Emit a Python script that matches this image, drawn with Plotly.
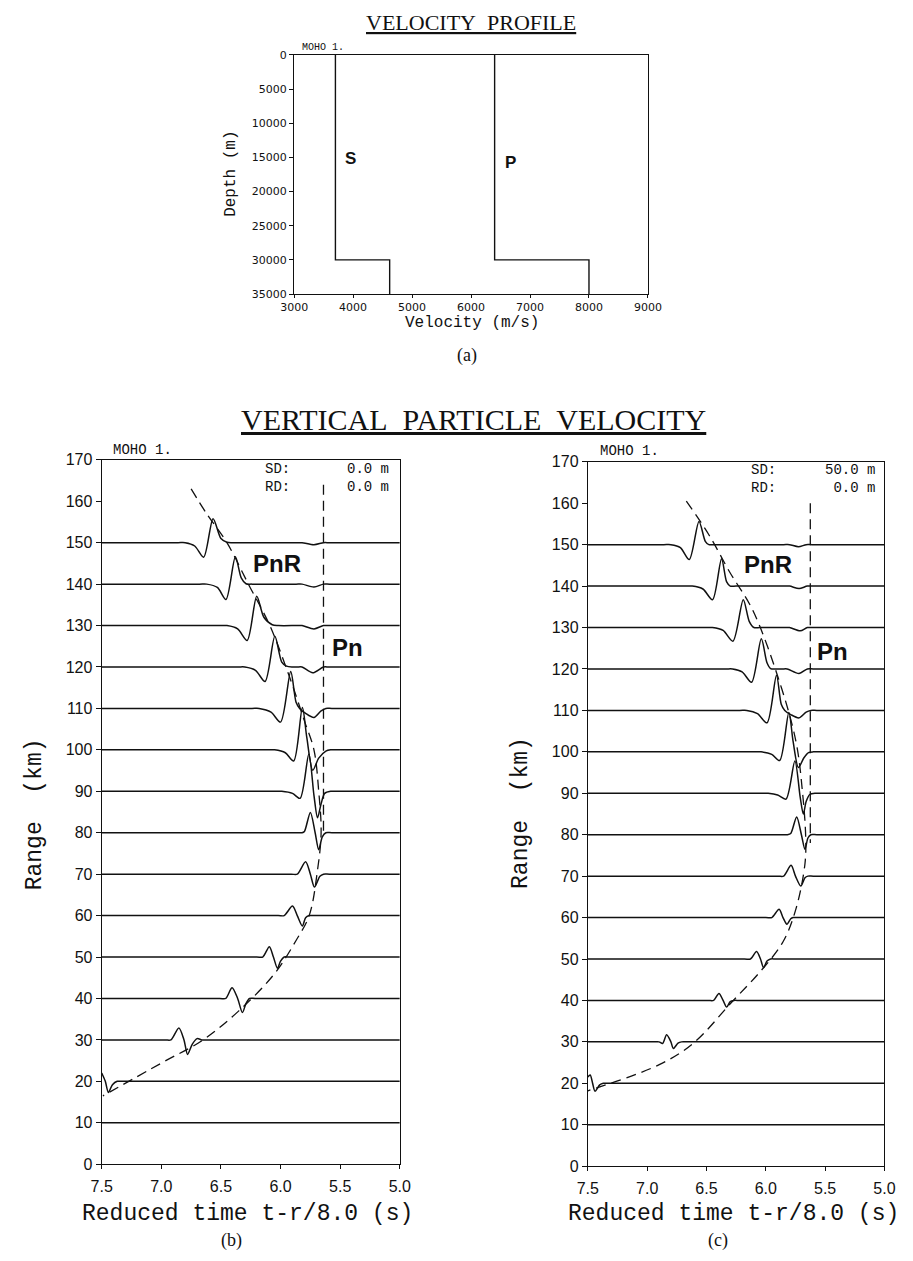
import plotly.graph_objects as go

W, H = 913, 1261

# ---------------- data ----------------
LAYER_DEPTH = [0, 30000, 35000]          # m
VS = [3700, 4620]                         # m/s per layer
VP = [6400, 8000]                         # m/s per layer
PROFILE_XTICKS = [3000, 4000, 5000, 6000, 7000, 8000, 9000]
PROFILE_YTICKS = [0, 5000, 10000, 15000, 20000, 25000, 30000, 35000]

RANGES = [10, 20, 30, 40, 50, 60, 70, 80, 90, 100, 110, 120, 130, 140, 150]
TIME_TICKS = [7.5, 7.0, 6.5, 6.0, 5.5, 5.0]
RANGE_TICKS = [0, 10, 20, 30, 40, 50, 60, 70, 80, 90, 100, 110, 120, 130, 140, 150, 160, 170]

# waveform knots (reduced time s, amplitude in km of range axis), panel (b) SD 0 m
PULSES_B = {
    10: [],
    20: [(7.50, 2.0), (7.47, 0.0), (7.444, -2.7), (7.41, -0.8), (7.37, 0.0), (7.32, 0.0)],
    30: [(6.97, 0), (6.92, 0), (6.853, 2.9), (6.81, 0), (6.78, -3.5), (6.74, -1.0), (6.70, 0.3),
         (6.66, 0), (6.61, 0)],
    40: [(6.51, 0), (6.46, 0), (6.407, 2.6), (6.36, 0), (6.32, -3.4), (6.29, -1.2), (6.26, 0), (6.21, 0)],
    50: [(6.20, 0), (6.15, 0), (6.094, 2.5), (6.06, 0), (6.026, -2.7), (6.00, -1.0), (5.97, 0), (5.92, 0)],
    60: [(6.02, 0), (5.97, 0), (5.90, 2.3), (5.86, 0), (5.817, -2.5), (5.79, -0.5), (5.76, 0), (5.71, 0)],
    70: [(5.91, 0), (5.86, 0), (5.79, 3.0), (5.75, 0), (5.716, -3.1), (5.67, -0.5), (5.64, 0), (5.59, 0)],
    80: [(5.87, 0), (5.82, 0), (5.80, 0.3), (5.75, 4.9), (5.71, 0), (5.68, -4.1), (5.65, -1.0),
         (5.62, 0), (5.57, 0)],
    90: [(6.05, 0), (5.99, 0), (5.90, -0.5), (5.836, -1.7), (5.763, 9.0), (5.72, -1.0), (5.69, -6.4),
         (5.66, -3.0), (5.63, -0.5), (5.58, 0), (5.53, 0)],
    100: [(6.11, 0), (6.05, 0), (5.96, -0.7), (5.89, -2.7), (5.817, 10.2), (5.78, 3.0), (5.73, -4.9),
          (5.68, -2.0), (5.62, -0.3), (5.58, 0), (5.53, 0)],
    110: [(6.24, 0), (6.18, 0), (6.08, -0.9), (6.00, -3.3), (5.915, 8.9), (5.87, 1.5), (5.84, 0),
          (5.79, -1.2), (5.72, -2.2), (5.66, -0.6), (5.62, 0), (5.57, 0)],
    120: [(6.36, 0), (6.30, 0), (6.21, -0.8), (6.13, -3.5), (6.048, 7.4), (5.99, 1.2), (5.95, 0.2),
          (5.90, 0), (5.86, 0), (5.82, 0), (5.73, -1.4), (5.64, 0), (5.59, 0)],
    130: [(6.51, 0), (6.45, 0), (6.36, -0.8), (6.28, -3.6), (6.20, 7.1), (6.14, 2.0), (6.07, 0.2),
          (6.02, 0), (5.87, 0), (5.82, 0), (5.72, -0.8), (5.64, 0), (5.59, 0)],
    140: [(6.68, 0), (6.62, 0), (6.53, -0.8), (6.458, -3.7), (6.379, 6.6), (6.33, 1.5), (6.29, 0.1),
          (6.24, 0), (5.87, 0), (5.82, 0), (5.72, -0.7), (5.64, 0), (5.59, 0)],
    150: [(6.86, 0), (6.80, 0), (6.72, -0.8), (6.645, -3.5), (6.566, 5.8), (6.50, 1.0), (6.45, 0.1),
          (6.40, 0), (5.87, 0), (5.82, 0), (5.72, -0.5), (5.64, 0), (5.59, 0)],
}

# panel (c) SD 50 m
PULSES_C = {
    10: [],
    20: [(7.50, 1.5), (7.48, 2.0), (7.46, 0.0), (7.44, -1.9), (7.40, -0.4), (7.37, 0.0), (7.32, 0.0)],
    30: [(6.95, 0), (6.90, 0), (6.87, -0.4), (6.836, 1.7), (6.80, 0), (6.779, -1.6), (6.74, -0.3),
         (6.71, 0), (6.66, 0)],
    40: [(6.49, 0), (6.44, 0), (6.395, 1.7), (6.36, 0), (6.33, -1.6), (6.30, -0.3), (6.27, 0), (6.22, 0)],
    50: [(6.18, 0), (6.13, 0), (6.078, 1.8), (6.045, 0), (6.019, -2.1), (5.99, -0.5), (5.96, 0), (5.91, 0)],
    60: [(6.00, 0), (5.95, 0), (5.888, 2.0), (5.855, 0), (5.822, -1.6), (5.79, -0.3), (5.77, 0), (5.72, 0)],
    70: [(5.90, 0), (5.85, 0), (5.787, 2.6), (5.75, 0), (5.705, -2.4), (5.67, -0.4), (5.645, 0), (5.60, 0)],
    80: [(5.87, 0), (5.82, 0), (5.79, 0.3), (5.74, 4.3), (5.70, 0), (5.67, -3.5), (5.645, -0.8),
         (5.62, 0), (5.57, 0)],
    90: [(6.04, 0), (5.98, 0), (5.90, -0.4), (5.83, -1.4), (5.755, 7.8), (5.71, -1.0), (5.684, -5.0),
         (5.66, -2.0), (5.63, -0.3), (5.58, 0), (5.53, 0)],
    100: [(6.10, 0), (6.04, 0), (5.95, -0.6), (5.883, -2.1), (5.806, 9.5), (5.77, 2.5), (5.725, -3.8),
          (5.68, -1.5), (5.64, -0.2), (5.60, 0), (5.55, 0)],
    110: [(6.22, 0), (6.16, 0), (6.07, -0.8), (5.99, -3.0), (5.91, 8.5), (5.87, 1.5), (5.84, 0),
          (5.79, -1.0), (5.72, -1.8), (5.66, -0.4), (5.62, 0), (5.57, 0)],
    120: [(6.34, 0), (6.28, 0), (6.20, -0.7), (6.12, -3.2), (6.038, 7.3), (5.99, 1.5), (5.96, 0.1),
          (5.91, 0), (5.86, 0), (5.82, 0), (5.72, -1.1), (5.65, 0), (5.60, 0)],
    130: [(6.51, 0), (6.45, 0), (6.36, -0.7), (6.277, -3.3), (6.19, 6.7), (6.14, 1.5), (6.10, 0),
          (6.05, 0), (5.85, 0), (5.80, 0), (5.71, -0.8), (5.65, 0), (5.60, 0)],
    140: [(6.68, 0), (6.62, 0), (6.53, -0.7), (6.449, -3.3), (6.373, 6.6), (6.33, 1.0), (6.30, 0),
          (6.25, 0), (5.85, 0), (5.80, 0), (5.72, -0.6), (5.65, 0), (5.60, 0)],
    150: [(6.86, 0), (6.80, 0), (6.72, -0.7), (6.645, -3.6), (6.563, 5.6), (6.51, 0.8), (6.48, 0),
          (6.43, 0), (5.85, 0), (5.80, 0), (5.725, -0.5), (5.66, 0), (5.61, 0)],
}

# dashed PnR travel-time curves
CURVE_B_T = [6.75, 6.62, 6.45, 6.27, 6.09, 5.93, 5.80, 5.72, 5.68, 5.66, 5.69, 5.76, 5.87, 6.05, 6.35, 6.65, 7.00, 7.49]
CURVE_B_R = [163, 157, 150, 140, 130, 118, 107, 100, 90, 80, 71, 60, 54, 46, 37, 30, 24.4, 16.5]
CURVE_C_T = [6.67, 6.48, 6.305, 6.114, 5.897, 5.746, 5.69, 5.664, 5.67, 5.746, 5.856, 6.046, 6.29, 6.61, 6.898, 7.5]
CURVE_C_R = [160.5, 152.4, 143.4, 134.4, 118, 102.5, 90, 79.5, 73, 62.1, 54.1, 47, 39.5, 29.7, 24.5, 18.2]

# Pn head-wave line
PN_T = [5.64, 5.625]
PN_TOP = [164, 160]
PN_BOT = [80, 78]

# ---------------- figure ----------------
fig = go.Figure()

def dx(p):
    return p / W

def dy(p):
    return 1 - p / H

BLACK = "#111111"

# velocity profile
for v in (VS, VP):
    xs, ys = [], []
    for i in range(len(v)):
        xs += [v[i], v[i]]
        ys += [LAYER_DEPTH[i], LAYER_DEPTH[i + 1]]
    fig.add_trace(go.Scatter(x=xs, y=ys, mode="lines", line=dict(color=BLACK, width=1.4),
                             xaxis="x", yaxis="y", showlegend=False, hoverinfo="skip"))

def add_panel(pulses, curve_t, curve_r, pn_t, pn_top, pn_bot, xa, ya):
    for r in RANGES:
        knots = pulses[r]
        xs, ys = [], []
        if not knots or knots[0][0] < 7.5:
            xs.append(7.5)
            ys.append(r)
        for t, a in knots:
            xs.append(t)
            ys.append(r + a)
        xs.append(5.0)
        ys.append(r)
        fig.add_trace(go.Scatter(x=xs, y=ys, mode="lines",
                                 line=dict(color=BLACK, width=1.5, shape="spline", smoothing=0.8),
                                 xaxis=xa, yaxis=ya, showlegend=False, hoverinfo="skip"))
    fig.add_trace(go.Scatter(x=curve_t, y=curve_r, mode="lines",
                             line=dict(color=BLACK, width=1.3, dash="10px,6px", shape="spline", smoothing=1),
                             xaxis=xa, yaxis=ya, showlegend=False, hoverinfo="skip"))
    fig.add_trace(go.Scatter(x=[pn_t, pn_t], y=[pn_top, pn_bot], mode="lines",
                             line=dict(color=BLACK, width=1.3, dash="10px,6px"),
                             xaxis=xa, yaxis=ya, showlegend=False, hoverinfo="skip"))

add_panel(PULSES_B, CURVE_B_T, CURVE_B_R, PN_T[0], PN_TOP[0], PN_BOT[0], "x2", "y2")
add_panel(PULSES_C, CURVE_C_T, CURVE_C_R, PN_T[1], PN_TOP[1], PN_BOT[1], "x3", "y3")

axis_common = dict(showline=True, mirror=True, linecolor=BLACK, linewidth=1.2,
                   showgrid=False, zeroline=False, ticks="outside", tickcolor=BLACK)

tickfont_main = dict(family="Liberation Sans", size=16, color=BLACK)
tickfont_small = dict(family="DejaVu Sans", size=11, color=BLACK)

fig.update_layout(
    width=W, height=H, autosize=False,
    margin=dict(l=0, r=0, t=0, b=0),
    paper_bgcolor="white", plot_bgcolor="white",
    xaxis=dict(domain=[dx(289), dx(654)], range=[3000, 9000], tickvals=PROFILE_XTICKS,
               ticktext=[str(v) for v in PROFILE_XTICKS],
               ticklen=3, tickfont=tickfont_small, anchor="y", **axis_common),
    yaxis=dict(domain=[dy(290), dy(47.5)], range=[35000, 0], tickvals=PROFILE_YTICKS,
               ticktext=[str(v) for v in PROFILE_YTICKS],
               ticklen=4, tickfont=tickfont_small, anchor="x", **axis_common),
    xaxis2=dict(domain=[dx(90.5), dx(398)], range=[7.5, 5.0], tickvals=TIME_TICKS,
                ticktext=[f"{t:.1f}" for t in TIME_TICKS], ticklen=4, ticklabelstandoff=4,
                tickfont=tickfont_main, anchor="y2", **axis_common),
    yaxis2=dict(domain=[dy(1172), dy(458)], range=[0, 170], tickvals=RANGE_TICKS,
                ticklen=5, tickfont=tickfont_main, anchor="x2", **axis_common),
    xaxis3=dict(domain=[dx(592), dx(898)], range=[7.5, 5.0], tickvals=TIME_TICKS,
                ticktext=[f"{t:.1f}" for t in TIME_TICKS], ticklen=4, ticklabelstandoff=4,
                tickfont=tickfont_main, anchor="y3", **axis_common),
    yaxis3=dict(domain=[dy(1174), dy(460)], range=[0, 170], tickvals=RANGE_TICKS,
                ticklen=5, tickfont=tickfont_main, anchor="x3", **axis_common),
)

NB = "\u00a0"
serif = "Liberation Serif"
mono = "Liberation Mono"

def ann(text, x, y, size, family, xanchor="center", yanchor="middle", angle=0,
        under=False, weight="normal", xref="paper", yref="paper", align="center"):
    f = dict(family=family, size=size, color=BLACK, weight=weight)
    if under:
        f["lineposition"] = "under"
    fig.add_annotation(text=text, x=x, y=y, xref=xref, yref=yref, showarrow=False,
                       xanchor=xanchor, yanchor=yanchor, textangle=angle, font=f, align=align)

# titles
ann("VELOCITY" + NB * 2 + "PROFILE", dx(471), dy(15), 22, serif, under=True)
ann("VERTICAL" + NB * 2 + "PARTICLE" + NB * 2 + "VELOCITY", dx(474), dy(417), 30, serif, under=True)

# velocity profile texts
ann("MOHO" + NB + "1.", dx(295), dy(40), 10, mono, xanchor="left")
ann("Depth" + NB + "(m)", dx(224), dy(168), 16, mono, angle=-90)
ann("Velocity" + NB + "(m/s)", dx(472), dy(319), 16, mono)
ann("(a)", dx(467), dy(352), 18, serif)
ann("S", 3953, 15200, 17, "Liberation Sans", xref="x", yref="y", weight="bold")
ann("P", 6677, 15800, 17, "Liberation Sans", xref="x", yref="y", weight="bold")

# panel (b)
ann("MOHO" + NB + "1.", dx(100), dy(448), 14, mono, xanchor="left")
ann("SD:<br>RD:", dx(257), dy(476), 14, mono, xanchor="left", align="left")
ann("0.0" + NB + "m<br>0.0" + NB + "m", dx(389), dy(476), 14, mono, xanchor="right", align="right")
ann("PnR", 6.026, 145, 24, "Liberation Sans", xref="x2", yref="y2", weight="bold")
ann("Pn", 5.44, 124.8, 24, "Liberation Sans", xref="x2", yref="y2", weight="bold")
ann("Range" + NB * 2 + "(km)", dx(22), dy(817), 23, mono, angle=-90)
ann("Reduced" + NB + "time" + NB + "t-r/8.0" + NB + "(s)", dx(241), dy(1222), 23, mono)
ann("(b)", dx(224), dy(1249), 18, serif)

# panel (c)
ann("MOHO" + NB + "1.", dx(602), dy(449), 14, mono, xanchor="left")
ann("SD:<br>RD:", dx(758), dy(477), 14, mono, xanchor="left", align="left")
ann("50.0" + NB + "m<br>0.0" + NB + "m", dx(890), dy(477), 14, mono, xanchor="right", align="right")
ann("PnR", 5.98, 145.2, 24, "Liberation Sans", xref="x3", yref="y3", weight="bold")
ann("Pn", 5.44, 124.3, 24, "Liberation Sans", xref="x3", yref="y3", weight="bold")
ann("Range" + NB * 2 + "(km)", dx(523), dy(816), 23, mono, angle=-90)
ann("Reduced" + NB + "time" + NB + "t-r/8.0" + NB + "(s)", dx(742), dy(1222), 23, mono)
ann("(c)", dx(726), dy(1249), 18, serif)

fig.write_html("out.html")
